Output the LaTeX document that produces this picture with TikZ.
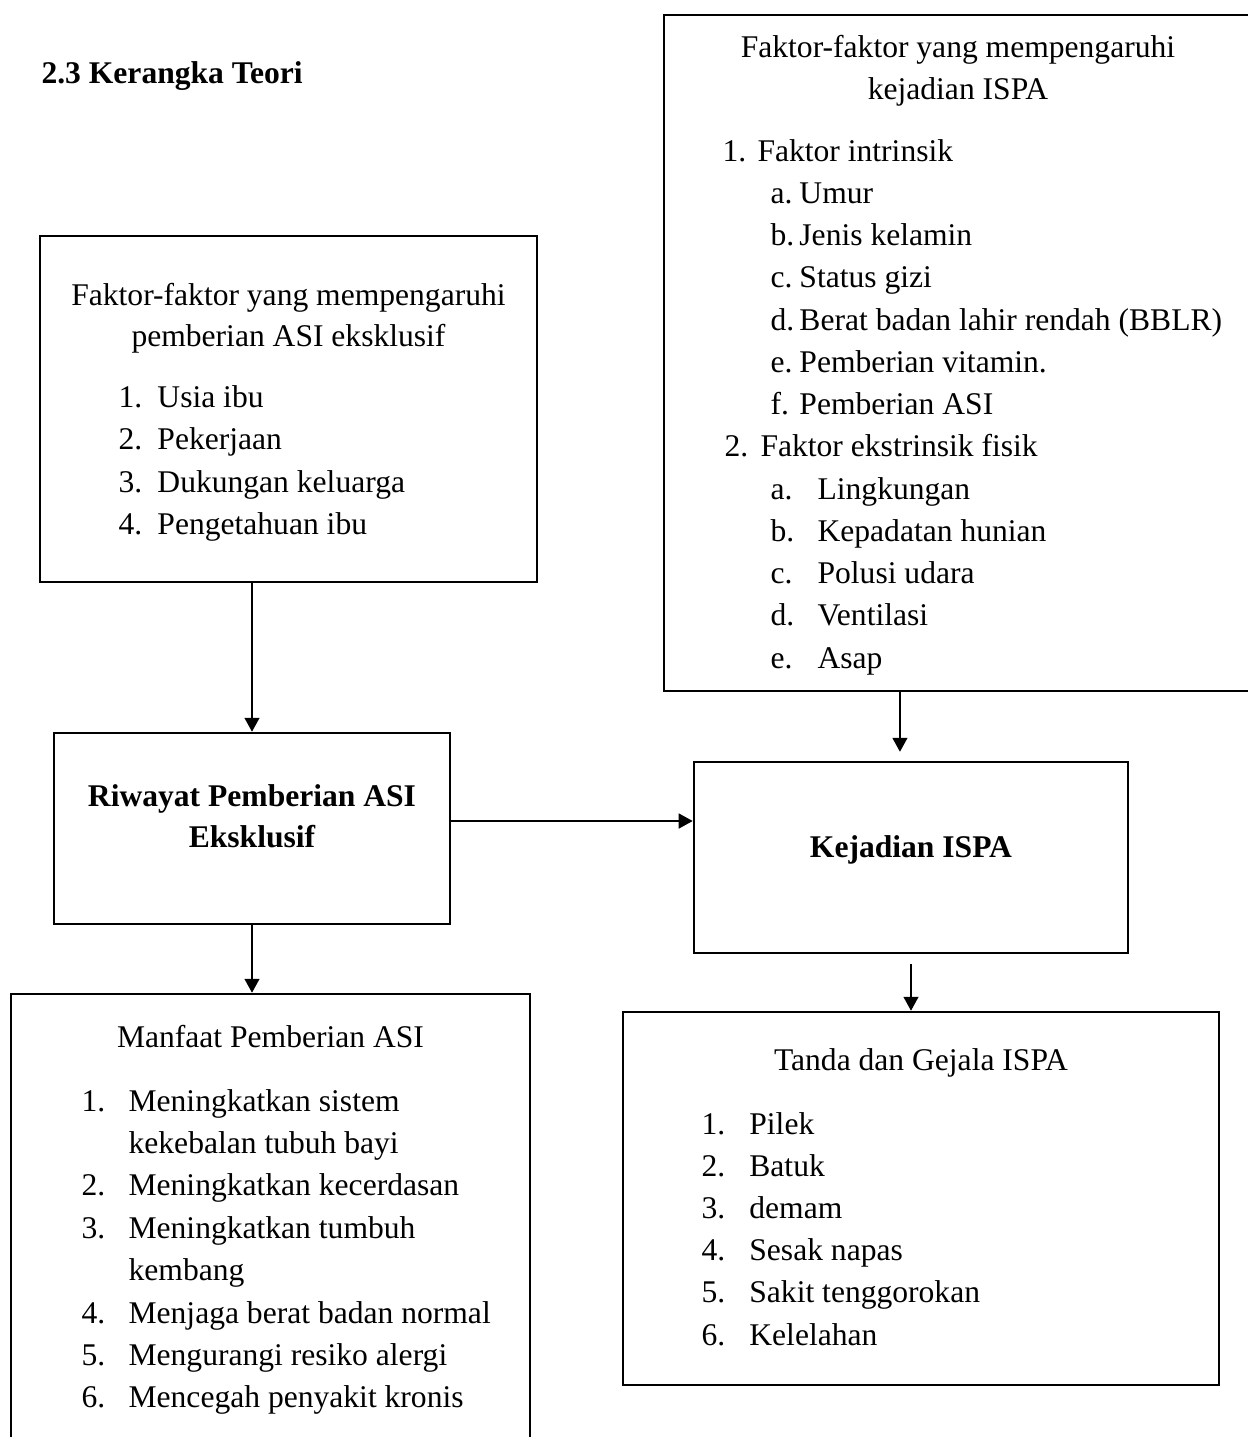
\documentclass[tikz,border=0pt]{standalone}
\usepackage{fontspec}
\setmainfont{Liberation Serif}
\usetikzlibrary{arrows.meta, positioning, fit}

\begin{document}
\begin{tikzpicture}[
    x=0.38pt, y=-0.38pt,
    box_style/.style={draw, line width=1pt, inner sep=0pt},
    arrow_style/.style={-{Triangle[length=5.3pt, width=5.7pt]}, line width=0.5pt},
    title_style/.style={font=\fontsize{12pt}{14pt}\selectfont, inner sep=0pt, anchor=base},
    bold_title_style/.style={title_style, font=\fontsize{12pt}{14pt}\selectfont\bfseries},
    item_style/.style={font=\fontsize{12pt}{14pt}\selectfont, inner sep=0pt, anchor=base west}
]
\useasboundingbox (0,0) rectangle (1247,1437);

% Heading
\node[item_style, font=\fontsize{12pt}{14pt}\selectfont\bfseries] (heading) at (41,83) {2.3 Kerangka Teori};

% LEFT COLUMN

% Faktor pemberian ASI eksklusif
\node[box_style, fit={(40,236) (537,582)}] (asi_box) {};
\node[title_style] (asi_t1) at (288.5,305) {Faktor-faktor yang mempengaruhi};
\node[title_style] (asi_t2) at (288.5,346) {pemberian ASI eksklusif};
\node[item_style] (asi_i1) at (118,407) {\makebox[14.8pt][l]{1.}Usia ibu};
\node[item_style] (asi_i2) at (118,449.5) {\makebox[14.8pt][l]{2.}Pekerjaan};
\node[item_style] (asi_i3) at (118,492) {\makebox[14.8pt][l]{3.}Dukungan keluarga};
\node[item_style] (asi_i4) at (118,534.5) {\makebox[14.8pt][l]{4.}Pengetahuan ibu};

% Riwayat pemberian ASI
\node[box_style, fit={(54,733) (450,924)}] (riwayat_box) {};
\node[bold_title_style] (riwayat_t1) at (252,806) {Riwayat Pemberian ASI};
\node[bold_title_style] (riwayat_t2) at (252,847) {Eksklusif};

% Manfaat pemberian ASI
\node[box_style, fit={(11,994) (530,1450)}] (manfaat_box) {};
\node[title_style] (manfaat_t1) at (270.5,1047) {Manfaat Pemberian ASI};
\node[item_style] (manfaat_i1) at (81,1111) {\makebox[17.9pt][l]{1.}Meningkatkan sistem};
\node[item_style] (manfaat_i1b) at (81,1153.4) {\hspace*{17.9pt}kekebalan tubuh bayi};
\node[item_style] (manfaat_i2) at (81,1195.8) {\makebox[17.9pt][l]{2.}Meningkatkan kecerdasan};
\node[item_style] (manfaat_i3) at (81,1238.2) {\makebox[17.9pt][l]{3.}Meningkatkan tumbuh};
\node[item_style] (manfaat_i3b) at (81,1280.6) {\hspace*{17.9pt}kembang};
\node[item_style] (manfaat_i4) at (81,1323) {\makebox[17.9pt][l]{4.}Menjaga berat badan normal};
\node[item_style] (manfaat_i5) at (81,1365.4) {\makebox[17.9pt][l]{5.}Mengurangi resiko alergi};
\node[item_style] (manfaat_i6) at (81,1407.8) {\makebox[17.9pt][l]{6.}Mencegah penyakit kronis};

% RIGHT COLUMN

% Faktor kejadian ISPA
\node[box_style, fit={(664,15) (1252,691)}] (ispa_box) {};
\node[title_style] (ispa_t1) at (958,57) {Faktor-faktor yang mempengaruhi};
\node[title_style] (ispa_t2) at (958,99) {kejadian ISPA};
\node[item_style] (ispa_g1) at (722,161) {\makebox[13.3pt][l]{1.}Faktor intrinsik};
\node[item_style] (ispa_a1) at (770,203.25) {\makebox[11pt][l]{a.}Umur};
\node[item_style] (ispa_b1) at (770,245.5) {\makebox[11pt][l]{b.}Jenis kelamin};
\node[item_style] (ispa_c1) at (770,287.75) {\makebox[11pt][l]{c.}Status gizi};
\node[item_style] (ispa_d1) at (770,330) {\makebox[11pt][l]{d.}Berat badan lahir rendah (BBLR)};
\node[item_style] (ispa_e1) at (770,372.25) {\makebox[11pt][l]{e.}Pemberian vitamin.};
\node[item_style] (ispa_f1) at (770,414.5) {\makebox[11pt][l]{f.}Pemberian ASI};
\node[item_style] (ispa_g2) at (724,456.75) {\makebox[13.7pt][l]{2.}Faktor ekstrinsik fisik};
\node[item_style] (ispa_a2) at (770,499) {\makebox[17.9pt][l]{a.}Lingkungan};
\node[item_style] (ispa_b2) at (770,541.25) {\makebox[17.9pt][l]{b.}Kepadatan hunian};
\node[item_style] (ispa_c2) at (770,583.5) {\makebox[17.9pt][l]{c.}Polusi udara};
\node[item_style] (ispa_d2) at (770,625.75) {\makebox[17.9pt][l]{d.}Ventilasi};
\node[item_style] (ispa_e2) at (770,668) {\makebox[17.9pt][l]{e.}Asap};

% Kejadian ISPA
\node[box_style, fit={(694,762) (1128,953)}] (kejadian_box) {};
\node[bold_title_style] (kejadian_t1) at (911,857) {Kejadian ISPA};

% Tanda dan gejala ISPA
\node[box_style, fit={(623,1012) (1219,1385)}] (tanda_box) {};
\node[title_style] (tanda_t1) at (921,1070) {Tanda dan Gejala ISPA};
\node[item_style] (tanda_i1) at (701,1134) {\makebox[18.2pt][l]{1.}Pilek};
\node[item_style] (tanda_i2) at (701,1176.2) {\makebox[18.2pt][l]{2.}Batuk};
\node[item_style] (tanda_i3) at (701,1218.4) {\makebox[18.2pt][l]{3.}demam};
\node[item_style] (tanda_i4) at (701,1260.6) {\makebox[18.2pt][l]{4.}Sesak napas};
\node[item_style] (tanda_i5) at (701,1302.8) {\makebox[18.2pt][l]{5.}Sakit tenggorokan};
\node[item_style] (tanda_i6) at (701,1345) {\makebox[18.2pt][l]{6.}Kelelahan};

% Arrows
\coordinate (ispa_in) at ([xshift=-4.2pt]kejadian_box.north);
\coordinate (riwayat_out) at ([yshift=2.85pt]riwayat_box.east);
\draw[arrow_style] (asi_box.south -| riwayat_box.north) -- (riwayat_box.north);
\draw[arrow_style] (riwayat_box.south) -- (riwayat_box.south |- manfaat_box.north);
\draw[arrow_style] (riwayat_out) -- (riwayat_out -| kejadian_box.west);
\draw[arrow_style, shorten >=3.4pt] (ispa_box.south -| ispa_in) -- (ispa_in);
\draw[arrow_style, shorten <=3.8pt] (kejadian_box.south) -- (kejadian_box.south |- tanda_box.north);

\end{tikzpicture}
\end{document}
